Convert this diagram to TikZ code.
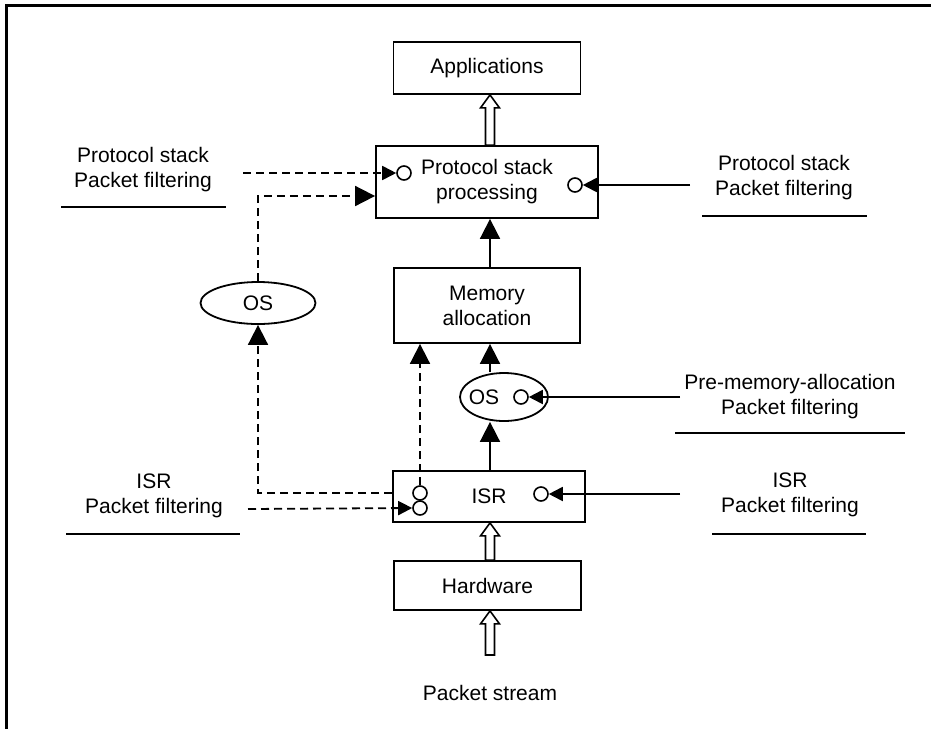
\documentclass[tikz,border=0pt]{standalone}
\usepackage{fontspec}
\setmainfont{Liberation Sans}
\usetikzlibrary{arrows.meta,calc,shapes.geometric}
\tikzset{
  txt/.style={font=\fontsize{21}{25}\selectfont, align=center, inner sep=0pt},
  blockbox/.style={draw, line width=1.8pt, txt},
  ovalbox/.style={draw, ellipse, line width=1.8pt, txt},
  port/.style={draw, circle, line width=1.6pt, minimum size=14pt, inner sep=0pt, fill=white},
  conn/.style={line width=1.8pt},
  dsh/.style={line width=1.8pt, dash pattern=on 8pt off 5pt},
  bighead/.style={-{Triangle[length=20pt,width=20pt]}},
  smallhead/.style={-{Triangle[length=14pt,width=14pt]}},
  uline/.style={line width=1.8pt},
  hollow/.style={draw, line width=1.6pt, fill=white}
}
\newcommand\hollowup[2]{%
  \path[hollow] let \p1=(#1), \p2=(#2) in
    (\x1-4.5pt,\y1) -- (\x1-4.5pt,\y2-13pt) -- (\x1-9.5pt,\y2-13pt) -- (\x1,\y2)
    -- (\x1+9.5pt,\y2-13pt) -- (\x1+4.5pt,\y2-13pt) -- (\x1+4.5pt,\y1) -- cycle;}
\begin{document}
\begin{tikzpicture}[x=1pt,y=-1pt]
\useasboundingbox (0,0) rectangle (931,729);
% frame
\draw[line width=3pt] (931,5.5) -- (6.5,5.5) -- (6.5,729);

% blocks
\node[blockbox, minimum width=187pt, minimum height=52pt] (app) at (487,68) {Applications};
\node[blockbox, minimum width=222pt, minimum height=72pt] (proto) at (487,182) {Protocol stack\\processing};
\node[blockbox, minimum width=186pt, minimum height=75pt] (mem) at (487,305.5) {Memory\\allocation};
\node[ovalbox, minimum width=88pt, minimum height=48pt] (os2) at (504,397) {};
\node[txt] (os2t) at (484,397) {OS};
\node[blockbox, minimum width=192pt, minimum height=51pt] (isr) at (489,496.5) {ISR};
\node[blockbox, minimum width=187pt, minimum height=49pt] (hw) at (487.5,585.5) {Hardware};
\node[ovalbox, minimum width=115pt, minimum height=42pt] (os1) at (258,303) {OS};
\node[txt] (ps) at (490,693) {Packet stream};

% ports
\node[port] (pc1) at (404,173) {};
\node[port] (pc2) at (575,185) {};
\node[port] (oc) at (521,397) {};
\node[port] (ic1) at (420,493) {};
\node[port] (ic2) at (420,508) {};
\node[port] (ic3) at (541,494) {};

% labels
\node[txt] (lp) at (143,170) {Protocol stack\\Packet filtering};
\node[txt] (rp) at (784,178) {Protocol stack\\Packet filtering};
\node[txt] (rm) at (790,397) {Pre-memory-allocation\\Packet filtering};
\node[txt] (li) at (154,496) {ISR\\Packet filtering};
\node[txt] (ri) at (790,495) {ISR\\Packet filtering};

% underlines
\draw[uline] (61,207) -- (226,207);
\draw[uline] (702,216) -- (867,216);
\draw[uline] (675,433) -- (905,433);
\draw[uline] (66,534) -- (240,534);
\draw[uline] (712,534) -- (866,534);

% free ends
\coordinate (ax) at (490,0);
\coordinate (lps) at (243,173);
\coordinate (lis) at (248,509);
\coordinate (rps) at (690,185);
\coordinate (rms) at (680,397);
\coordinate (ris) at (680,494);
\coordinate (pss) at (490,655);

% hollow arrows
\hollowup{proto.north -| ax}{app.south -| ax}
\hollowup{hw.north -| ax}{isr.south -| ax}
\hollowup{pss}{hw.south -| ax}

% solid arrows
\draw[conn, bighead] (mem.north -| ax) -- (proto.south -| ax);
\draw[conn, bighead] (os2.north -| ax) -- (mem.south -| ax);
\draw[conn, bighead] (isr.north -| ax) -- (os2.south -| ax);
\draw[conn, smallhead] (rps) -- (pc2.east);
\draw[conn, smallhead] (rms) -- (oc.east);
\draw[conn, smallhead] (ris) -- (ic3.east);

% dashed arrows
\draw[dsh, smallhead] (lps) -- (pc1.west);
\draw[dsh, bighead] (os1.north) |- ($(proto.west)+(0,14)$);
\draw[dsh, bighead] (isr.west |- ic1) -| (os1.south);
\draw[dsh, bighead] (ic1.north) -- (mem.south -| ic1);
\draw[dsh, smallhead] (lis) -- (ic2.west);
\end{tikzpicture}
\end{document}
